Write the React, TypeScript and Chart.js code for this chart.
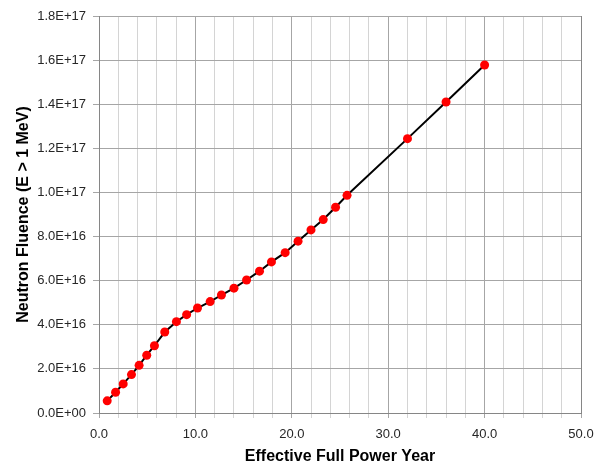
import React, { useEffect, useRef } from "react";
import { Chart, registerables } from "chart.js";

Chart.register(...registerables);

const years: number[] = [0.85, 1.72, 2.51, 3.37, 4.16, 4.95, 5.75, 6.82, 8.03, 9.09, 10.22, 11.53, 12.7, 14.0, 15.31, 16.65, 17.89, 19.31, 20.65, 21.99, 23.26, 24.54, 25.73, 32.0, 36.0, 40.0];
const fluence: number[] = [0.55e16, 0.94e16, 1.32e16, 1.74e16, 2.16e16, 2.62e16, 3.05e16, 3.67e16, 4.14e16, 4.46e16, 4.76e16, 5.05e16, 5.35e16, 5.66e16, 6.03e16, 6.43e16, 6.85e16, 7.27e16, 7.79e16, 8.3e16, 8.77e16, 9.33e16, 9.87e16, 12.44e16, 14.1e16, 15.78e16];

const xTitle = "Effective Full Power Year";
const yTitle = "Neutron Fluence (E > 1 MeV)";

function fmtExp(v: number): string {
  if (Math.abs(v) < 1) return "0.0E+00";
  const s = v.toExponential(1).toUpperCase();
  const [m, e] = s.split("E");
  const sign = e[0] === "-" ? "-" : "+";
  const digits = e.replace(/[+-]/, "").padStart(2, "0");
  return `${m}E${sign}${digits}`;
}

const borderPlugin = {
  id: "plotBorder",
  afterDraw(chart: any) {
    const { ctx, chartArea } = chart;
    ctx.save();
    ctx.strokeStyle = "#868686";
    ctx.lineWidth = 1;
    ctx.beginPath();
    ctx.moveTo(Math.round(chartArea.right) + 0.5, chartArea.top);
    ctx.lineTo(Math.round(chartArea.right) + 0.5, chartArea.bottom);
    ctx.stroke();
    ctx.restore();
  },
};

export default function App() {
  const ref = useRef<HTMLCanvasElement | null>(null);
  useEffect(() => {
    document.body.style.margin = "0";
    if (!ref.current) return;
    const chart = new Chart(ref.current, {
      type: "scatter",
      data: {
        datasets: [
          {
            data: years.map((x, i) => ({ x, y: fluence[i] })),
            showLine: true,
            borderColor: "#000000",
            borderWidth: 2,
            pointBackgroundColor: "#ff0000",
            pointBorderColor: "#ff0000",
            pointRadius: 4.5,
            pointBorderWidth: 0,
          },
        ],
      },
      plugins: [borderPlugin],
      options: {
        animation: false,
        responsive: true,
        maintainAspectRatio: false,
        layout: { padding: { left: 14, right: 27, top: 16, bottom: 0 } },
        plugins: { legend: { display: false }, tooltip: { enabled: false } },
        scales: {
          x: {
            type: "linear",
            min: 0,
            max: 50,
            afterFit: (s: any) => {
              s.height = 53;
            },
            border: { color: "#868686", width: 1 },
            grid: {
              color: (c: any) => (c.tick && Math.abs(c.tick.value % 10) < 1e-6 ? "#a6a6a6" : "#d4d4d4"),
              tickLength: 5,
            },
            ticks: {
              stepSize: 2,
              autoSkip: false,
              maxRotation: 0,
              color: "#262626",
              font: { family: "'Liberation Sans', Arial", size: 13 },
              padding: 9,
              callback: (v: any) => (Math.abs(Number(v) % 10) < 1e-6 ? Number(v).toFixed(1) : ""),
            },
            title: {
              display: true,
              text: xTitle,
              color: "#000000",
              font: { family: "'Liberation Sans', Arial", size: 16, weight: "bold" },
              padding: { top: 2, bottom: 0 },
            },
          },
          y: {
            type: "linear",
            min: 0,
            max: 1.8e17,
            afterFit: (s: any) => {
              s.width = 85;
            },
            border: { color: "#868686", width: 1 },
            grid: { color: "#a6a6a6", tickLength: 6 },
            ticks: {
              stepSize: 2e16,
              color: "#262626",
              font: { family: "'Liberation Sans', Arial", size: 13 },
              padding: 7,
              callback: (v: any) => fmtExp(Number(v)),
            },
            title: {
              display: true,
              text: yTitle,
              color: "#000000",
              font: { family: "'Liberation Sans', Arial", size: 16, weight: "bold" },
              padding: { top: 0, bottom: 4 },
            },
          },
        },
      },
    });
    return () => chart.destroy();
  }, []);
  return (
    <div style={{ position: "absolute", left: 0, top: 0, width: 608, height: 466, background: "#fff" }}>
      <canvas ref={ref} />
    </div>
  );
}
